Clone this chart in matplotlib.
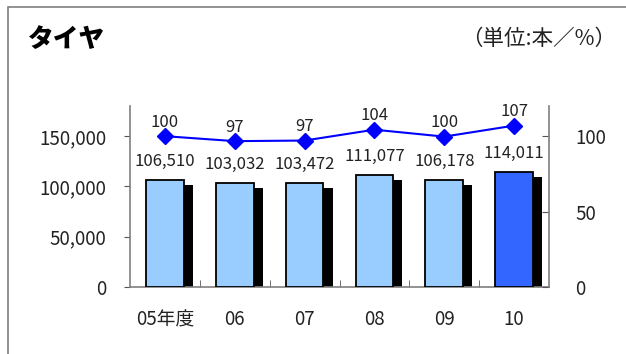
import matplotlib
matplotlib.use('Agg')
import matplotlib.pyplot as plt
from matplotlib.patches import Rectangle
import numpy as np

plt.rcParams['font.family'] = ['Noto Sans CJK JP', 'DejaVu Sans']

# data
years = ['05年度', '06', '07', '08', '09', '10']
units = [106510, 103032, 103472, 111077, 106178, 114011]
index = [100.0, 96.7, 97.1, 104.3, 99.7, 107.0]
bar_colors = ['#99CCFF', '#99CCFF', '#99CCFF', '#99CCFF', '#99CCFF', '#3366FF']
left_ticks = [0, 50000, 100000, 150000]
right_ticks = [0, 50, 100]

W, H = 626, 354
fig = plt.figure(figsize=(W / 100, H / 100), dpi=100)

# outer frame
fig.patches.append(Rectangle((7.5 / W, -0.1), 1.2, 1 - 7.5 / H + 0.1,
                             transform=fig.transFigure, fill=False,
                             edgecolor='#7f7f7f', linewidth=1.2))

ax = fig.add_axes([130 / W, (H - 287) / H, (549 - 130) / W, (287 - 106) / H])
x = np.arange(len(years))
bw = 0.54

# shadows then bars
ax.bar(x + 0.13, [u - 5000 for u in units], width=bw, color='black', zorder=2)
ax.bar(x, units, width=bw, color=bar_colors, edgecolor='black', linewidth=1.3, zorder=3)
for xi, u in zip(x, units):
    ax.text(xi, u + 10000, f'{u:,}', ha='center', va='bottom', fontsize=12, color='#222222')

ax.set_xlim(-0.5, len(years) - 0.5)
ax.set_ylim(0, 180000)
ax.set_yticks(left_ticks)
ax.set_yticklabels([f'{t:,}' for t in left_ticks], fontsize=13.5, color='#222222')
ax.set_xticks(x)
ax.set_xticklabels(years, fontsize=13.5, color='#222222')
ax.set_xticks(np.arange(0.5, len(years) - 0.5), minor=True)
ax.tick_params(axis='x', which='major', length=0, pad=16)
ax.tick_params(axis='x', which='minor', direction='in', length=5, color='#555555')
ax.tick_params(axis='y', direction='out', length=4, pad=13, color='#555555')
for s in ['top', 'right']:
    ax.spines[s].set_visible(False)
for s in ['left', 'bottom']:
    ax.spines[s].set_color('#7f7f7f')
    ax.spines[s].set_linewidth(1.2)

ax2 = ax.twinx()
ax2.plot(x, index, color='#0000FF', linewidth=1.5, marker='D', markersize=8, zorder=5)
for xi, v in zip(x, index):
    ax2.text(xi, v + 3.5, f'{v:.0f}', ha='center', va='bottom', fontsize=12, color='#222222')
ax2.set_ylim(0, 120)
ax2.set_yticks(right_ticks)
ax2.set_yticklabels([str(t) for t in right_ticks], fontsize=13.5, color='#222222')
ax2.tick_params(axis='y', direction='in', length=5, pad=19, color='#555555')
for s in ['top', 'left', 'bottom']:
    ax2.spines[s].set_visible(False)
ax2.spines['right'].set_color('#7f7f7f')
ax2.spines['right'].set_linewidth(1.2)

fig.text(28 / W, 1 - 39 / H, 'タイヤ', fontsize=18.5, fontweight='heavy', va='center', ha='left')
fig.text(616 / W, 1 - 39 / H, '（単位:本／%）', fontsize=15.5, va='center', ha='right', color='#222222')

fig.savefig('out.png', dpi=100)
